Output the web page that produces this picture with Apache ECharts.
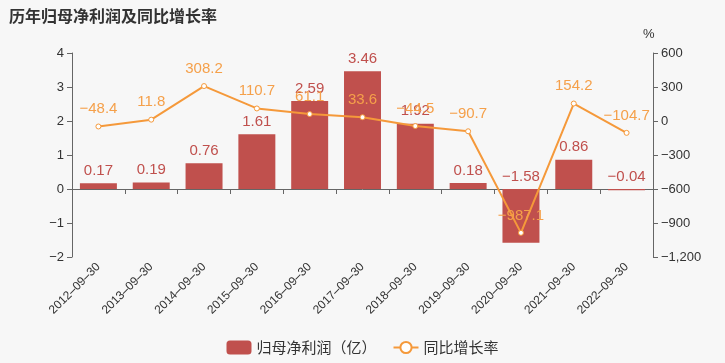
<!DOCTYPE html>
<html><head><meta charset="utf-8">
<script src="https://cdn.jsdelivr.net/npm/echarts@6/dist/echarts.min.js"></script>
<style>html,body{margin:0;padding:0;background:#f7f7f7}#c{width:725px;height:363px}</style>
</head><body><div id="c"></div>
<script>
var categories = ['2012-09-30','2013-09-30','2014-09-30','2015-09-30','2016-09-30','2017-09-30','2018-09-30','2019-09-30','2020-09-30','2021-09-30','2022-09-30'];
var profit = [0.17, 0.19, 0.76, 1.61, 2.59, 3.46, 1.92, 0.18, -1.58, 0.86, -0.04];
var growth = [-48.4, 11.8, 308.2, 110.7, 61.1, 33.6, -44.5, -90.7, -987.1, 154.2, -104.7];
var leftTicks = {min: -2, max: 4, interval: 1};
var rightTicks = {min: -1200, max: 600, interval: 300};

function minus(v){ return String(v).replace('-', '\u2212'); }
function fmtThousand(v){
  var s = Math.abs(v).toString().replace(/\B(?=(\d{3})+(?!\d))/g, ',');
  return (v < 0 ? '\u2212' : '') + s;
}

var chart = echarts.init(document.getElementById('c'));
var font = '"Liberation Sans", "Noto Sans CJK SC", sans-serif';
chart.setOption({
  backgroundColor: '#f7f7f7',
  textStyle: {fontFamily: font},
  title: {text: '历年归母净利润及同比增长率', left: 4, top: 3,
    textStyle: {fontSize: 16, fontWeight: 'bold', color: '#333', fontFamily: '"Noto Sans CJK SC", sans-serif'}},
  legend: {bottom: 3, left: 'center', itemWidth: 25, itemHeight: 14, itemGap: 16,
    textStyle: {fontSize: 15, color: '#333', fontFamily: '"Noto Sans CJK SC", sans-serif'},
    data: [{name: '归母净利润（亿）', icon: 'roundRect'}, {name: '同比增长率'}]},
  grid: {left: 72, right: 72, top: 53, bottom: 106},
  xAxis: {type: 'category', data: categories,
    axisLine: {onZero: true, lineStyle: {color: '#666'}},
    axisTick: {show: true, alignWithLabel: false, lineStyle: {color: '#666'}},
    axisLabel: {rotate: 45, fontSize: 12, color: '#333', interval: 0, margin: 8,
      formatter: function(v){ return v.replace(/-/g, '\u2013'); }}},
  yAxis: [
    {type: 'value', min: leftTicks.min, max: leftTicks.max, interval: leftTicks.interval,
      splitLine: {show: false},
      axisLine: {show: true, lineStyle: {color: '#666'}},
      axisTick: {show: true, lineStyle: {color: '#666'}},
      axisLabel: {color: '#333', fontSize: 13, formatter: minus}},
    {type: 'value', name: '%', nameGap: 12, nameTextStyle: {color: '#333', fontSize: 13, align: 'left', padding: [0,0,0,-10]},
      min: rightTicks.min, max: rightTicks.max, interval: rightTicks.interval,
      splitLine: {show: false},
      axisLine: {show: true, lineStyle: {color: '#666'}},
      axisTick: {show: true, lineStyle: {color: '#666'}},
      axisLabel: {color: '#333', fontSize: 13, formatter: fmtThousand}}
  ],
  series: [
    {name: '归母净利润（亿）', type: 'bar', data: profit, barWidth: '70%',
      itemStyle: {color: '#c0504d'},
      label: {show: true, position: 'top', color: '#c0504d', fontSize: 15,
        formatter: function(p){ return minus(p.value); }},
      labelLayout: {hideOverlap: false}},
    {name: '同比增长率', type: 'line', yAxisIndex: 1, data: growth,
      symbol: 'circle', symbolSize: 5,
      lineStyle: {color: '#f5993a', width: 2},
      itemStyle: {color: '#fff', borderColor: '#f5993a', borderWidth: 1},
      label: {show: true, position: 'top', color: '#f5a04a', fontSize: 15, distance: 7,
        formatter: function(p){ return minus(p.value); }}}
  ]
});
</script></body></html>
